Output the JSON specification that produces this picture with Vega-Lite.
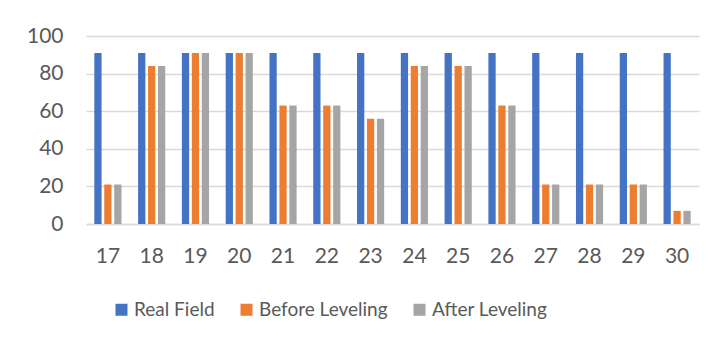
{
  "$schema": "https://vega.github.io/schema/vega-lite/v6.json",
  "autosize": "none",
  "width": 613,
  "height": 188,
  "padding": {"left": 86, "top": 36, "right": 17, "bottom": 121},
  "background": "#ffffff",
  "data": {
    "values": [
      {"cat": "17", "series": "Real Field", "value": 91},
      {"cat": "17", "series": "Before Leveling", "value": 21},
      {"cat": "17", "series": "After Leveling", "value": 21},
      {"cat": "18", "series": "Real Field", "value": 91},
      {"cat": "18", "series": "Before Leveling", "value": 84},
      {"cat": "18", "series": "After Leveling", "value": 84},
      {"cat": "19", "series": "Real Field", "value": 91},
      {"cat": "19", "series": "Before Leveling", "value": 91},
      {"cat": "19", "series": "After Leveling", "value": 91},
      {"cat": "20", "series": "Real Field", "value": 91},
      {"cat": "20", "series": "Before Leveling", "value": 91},
      {"cat": "20", "series": "After Leveling", "value": 91},
      {"cat": "21", "series": "Real Field", "value": 91},
      {"cat": "21", "series": "Before Leveling", "value": 63},
      {"cat": "21", "series": "After Leveling", "value": 63},
      {"cat": "22", "series": "Real Field", "value": 91},
      {"cat": "22", "series": "Before Leveling", "value": 63},
      {"cat": "22", "series": "After Leveling", "value": 63},
      {"cat": "23", "series": "Real Field", "value": 91},
      {"cat": "23", "series": "Before Leveling", "value": 56},
      {"cat": "23", "series": "After Leveling", "value": 56},
      {"cat": "24", "series": "Real Field", "value": 91},
      {"cat": "24", "series": "Before Leveling", "value": 84},
      {"cat": "24", "series": "After Leveling", "value": 84},
      {"cat": "25", "series": "Real Field", "value": 91},
      {"cat": "25", "series": "Before Leveling", "value": 84},
      {"cat": "25", "series": "After Leveling", "value": 84},
      {"cat": "26", "series": "Real Field", "value": 91},
      {"cat": "26", "series": "Before Leveling", "value": 63},
      {"cat": "26", "series": "After Leveling", "value": 63},
      {"cat": "27", "series": "Real Field", "value": 91},
      {"cat": "27", "series": "Before Leveling", "value": 21},
      {"cat": "27", "series": "After Leveling", "value": 21},
      {"cat": "28", "series": "Real Field", "value": 91},
      {"cat": "28", "series": "Before Leveling", "value": 21},
      {"cat": "28", "series": "After Leveling", "value": 21},
      {"cat": "29", "series": "Real Field", "value": 91},
      {"cat": "29", "series": "Before Leveling", "value": 21},
      {"cat": "29", "series": "After Leveling", "value": 21},
      {"cat": "30", "series": "Real Field", "value": 91},
      {"cat": "30", "series": "Before Leveling", "value": 7},
      {"cat": "30", "series": "After Leveling", "value": 7}
    ]
  },
  "mark": {"type": "bar"},
  "encoding": {
    "x": {
      "field": "cat",
      "type": "ordinal",
      "title": null,
      "scale": {"paddingInner": 0.38, "paddingOuter": 0.19},
      "axis": {
        "labelAngle": 0,
        "ticks": false,
        "domain": true,
        "domainColor": "#d9d9d9",
        "domainWidth": 1.5,
        "labelPadding": 21,
        "grid": false
      }
    },
    "xOffset": {
      "field": "series",
      "type": "nominal",
      "sort": ["Real Field", "Before Leveling", "After Leveling"],
      "scale": {"paddingInner": 0.27}
    },
    "y": {
      "field": "value",
      "type": "quantitative",
      "title": null,
      "scale": {"domain": [0, 100], "nice": false},
      "axis": {
        "values": [0, 20, 40, 60, 80, 100],
        "ticks": false,
        "domain": false,
        "grid": true,
        "gridColor": "#d9d9d9",
        "gridWidth": 1.5,
        "labelPadding": 23
      }
    },
    "color": {
      "field": "series",
      "type": "nominal",
      "sort": ["Real Field", "Before Leveling", "After Leveling"],
      "scale": {
        "domain": ["Real Field", "Before Leveling", "After Leveling"],
        "range": ["#4472c4", "#ed7d31", "#a5a5a5"]
      },
      "legend": {
        "title": null,
        "orient": "none",
        "direction": "horizontal",
        "legendX": 26,
        "legendY": 264,
        "symbolType": "square",
        "symbolSize": 144,
        "symbolStrokeWidth": 0,
        "labelOffset": 3,
        "columnPadding": 22
      }
    }
  },
  "config": {
    "font": "Lato",
    "view": {"stroke": null},
    "axis": {
      "labelFont": "Lato",
      "labelFontSize": 21,
      "labelColor": "#595959"
    },
    "legend": {
      "labelFont": "Lato",
      "labelFontSize": 19,
      "labelColor": "#595959"
    }
  }
}
